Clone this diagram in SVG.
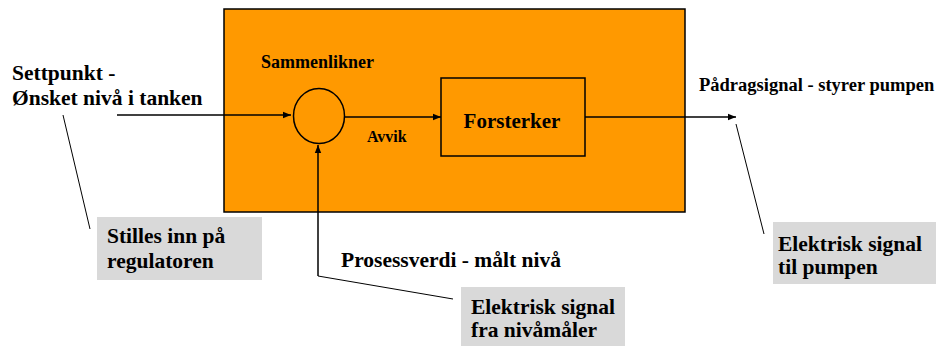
<svg xmlns="http://www.w3.org/2000/svg" width="938" height="346" viewBox="0 0 938 346">
<style>
.t{font-family:'Liberation Serif','Times New Roman','DejaVu Serif',serif;font-weight:bold;fill:#000}
.big{font-size:21.5px}
.ln{stroke:#000;stroke-width:1.5;fill:none}
.thin{stroke:#000;stroke-width:1;fill:none}
.note{fill:#d9d9d9}
</style>
<defs>
<marker id="ah" viewBox="0 0 10 10" refX="10" refY="5" markerWidth="8" markerHeight="8" markerUnits="userSpaceOnUse" orient="auto">
<path d="M0,1 L10,5 L0,9 z" fill="#000"/>
</marker>
</defs>
<rect width="938" height="346" fill="#fff"/>
<g id="regulator">
<rect x="224" y="9" width="461" height="203" fill="#ff9900" stroke="#000" stroke-width="1.5"/>
</g>
<g id="sammenlikner">
<ellipse cx="319" cy="116" rx="25.5" ry="27.5" class="ln"/>
<text class="t" x="261" y="68" font-size="18">Sammenlikner</text>
</g>
<g id="forsterker">
<rect x="441" y="78" width="144" height="78" class="ln"/>
<text class="t" x="512" y="128" font-size="21" text-anchor="middle">Forsterker</text>
</g>
<g id="connectors">
<line x1="117" y1="115" x2="291" y2="115" class="ln" marker-end="url(#ah)"/>
<line x1="345" y1="117" x2="441" y2="117" class="ln" marker-end="url(#ah)"/>
<line x1="585" y1="117" x2="736" y2="117" class="ln" marker-end="url(#ah)"/>
<polyline points="318,276 318,145" class="ln" marker-end="url(#ah)"/>
<line x1="318" y1="276" x2="453" y2="299" class="thin"/>
<line x1="63" y1="115" x2="90" y2="229" class="thin"/>
<line x1="736" y1="124" x2="764" y2="234" class="thin"/>
</g>
<g id="labels">
<text class="t big" x="12" y="80">Settpunkt -</text>
<text class="t big" x="12" y="105">Ønsket nivå i tanken</text>
<text class="t" x="367" y="142" font-size="16">Avvik</text>
<text class="t" x="699" y="91" font-size="18.5">Pådragsignal - styrer pumpen</text>
<text class="t big" x="341" y="267">Prosessverdi - målt nivå</text>
</g>
<g id="note-stilles">
<rect x="97" y="217" width="165" height="63" class="note"/>
<text class="t big" x="107" y="243">Stilles inn på</text>
<text class="t big" x="107" y="268">regulatoren</text>
</g>
<g id="note-niva">
<rect x="461" y="287" width="164" height="59" class="note"/>
<text class="t big" x="471" y="314">Elektrisk signal</text>
<text class="t big" x="471" y="337">fra nivåmåler</text>
</g>
<g id="note-pumpe">
<rect x="773" y="222" width="163" height="62" class="note"/>
<text class="t big" x="778" y="251">Elektrisk signal</text>
<text class="t big" x="778" y="274">til pumpen</text>
</g>
</svg>
